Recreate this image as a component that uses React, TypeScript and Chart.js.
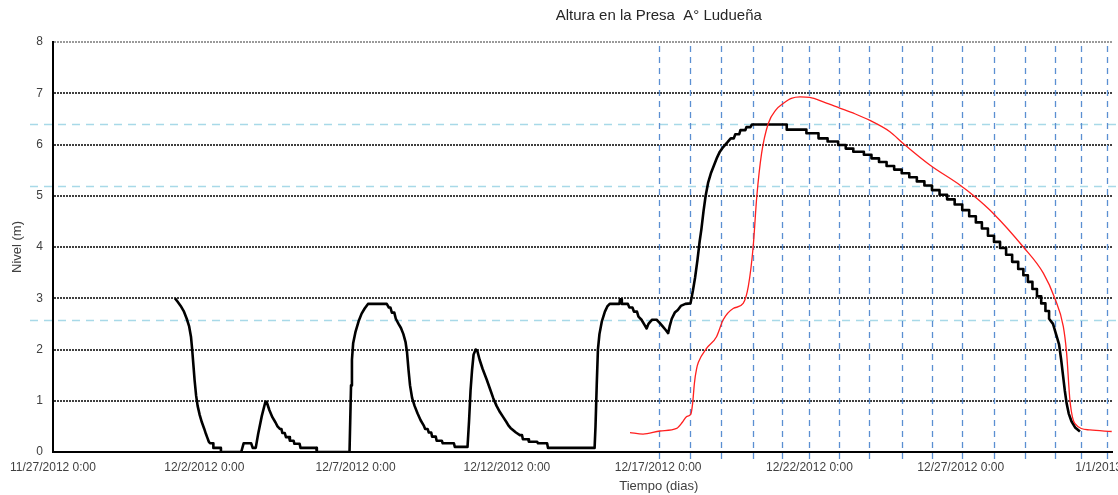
import React, { useEffect, useRef } from 'react';
import { Chart, registerables } from 'chart.js';

Chart.register(...registerables);

// ---- texts ----
const TITLE = 'Altura en la Presa  A° Ludueña';
const X_TITLE = 'Tiempo (dias)';
const Y_TITLE = 'Nivel (m)';

// ---- axes ----
const START_DATE = [2012, 10, 27]; // 11/27/2012 0:00 (month 0-based)
const X_MAX_DAYS = 35;
const X_STEP_DAYS = 5;
const Y_MIN = 0;
const Y_MAX = 8;
const Y_STEP = 1;

// ---- black series: measured level (days since 11/27/2012, metres), staircase corners included ----
const measuredDays = [
  4.03, 4.12, 4.22, 4.32, 4.42, 4.5, 4.56, 4.6, 4.64, 4.68, 4.73, 4.78, 4.85, 4.92, 5.0, 5.05, 5.1, 5.15,
  5.19, 5.3, 5.3, 5.55, 5.55, 6.22, 6.3, 6.55, 6.6, 6.7, 6.78, 6.9, 7.02, 7.06,
  7.15, 7.25, 7.35, 7.42, 7.5, 7.55, 7.58, 7.66, 7.7, 7.8, 7.83, 7.95, 7.98, 8.15, 8.18, 8.7, 8.72, 9.8,
  9.85, 9.88, 9.92, 10.0, 10.1, 10.2, 10.3, 10.41, 11.03,
  11.1, 11.15, 11.2, 11.28, 11.33, 11.42, 11.5, 11.58, 11.65, 11.7, 11.75, 11.8, 11.87, 11.95, 12.05, 12.15, 12.25,
  12.3, 12.38, 12.42, 12.5, 12.53, 12.65, 12.68, 12.85, 12.88, 13.25, 13.28, 13.7,
  13.75, 13.8, 13.85, 13.9, 13.97, 14.02,
  14.1, 14.2, 14.33, 14.45, 14.55, 14.66, 14.77, 14.88, 14.99, 15.05, 15.12, 15.2, 15.3, 15.43, 15.5, 15.53,
  15.7, 15.73, 16.0, 16.03, 16.33, 16.36, 17.9,
  17.93, 17.97, 18.01, 18.06, 18.14, 18.24, 18.32, 18.4, 18.72, 18.74, 18.78, 18.8, 19.0,
  19.05, 19.15, 19.2, 19.3, 19.35, 19.45, 19.55, 19.62, 19.68, 19.75, 19.8, 19.95, 20.05, 20.15, 20.25, 20.33,
  20.38, 20.45, 20.55, 20.65, 20.75, 20.9, 21.07,
  21.15, 21.22, 21.3, 21.37, 21.43, 21.5, 21.57, 21.65, 21.75, 21.85, 21.95, 22.04, 22.15, 22.3,
  22.4, 22.5, 22.55, 22.68, 22.72, 22.88, 22.92, 23.05, 23.1, 24.25,
  24.25, 24.9, 24.9, 25.3, 25.3, 25.6, 25.6, 25.95, 25.95, 26.2, 26.2, 26.45, 26.45, 26.8, 26.8, 27.05,
  27.05, 27.3, 27.3, 27.55, 27.55, 27.8, 27.8, 28.05, 28.05, 28.3, 28.3, 28.55, 28.55, 28.8, 28.8, 29.05,
  29.05, 29.3, 29.3, 29.55, 29.55, 29.8, 29.8, 30.05, 30.05, 30.28, 30.28, 30.5, 30.5, 30.7, 30.7, 30.9,
  30.9, 31.1, 31.1, 31.3, 31.3, 31.5, 31.5, 31.7, 31.7, 31.9, 31.9, 32.07, 32.07, 32.22, 32.22, 32.37,
  32.37, 32.52, 32.52, 32.66, 32.66, 32.8, 32.8, 32.92, 32.92,
  33.05, 33.15, 33.25, 33.32, 33.38, 33.44, 33.5, 33.57, 33.66, 33.78, 33.94,
];
const measuredLevel = [
  3.0, 2.93, 2.85, 2.75, 2.6, 2.45, 2.25, 2.0, 1.7, 1.4, 1.1, 0.9, 0.72, 0.58, 0.45, 0.36, 0.28, 0.2,
  0.17, 0.17, 0.08, 0.08, 0.0, 0.0, 0.17, 0.17, 0.08, 0.08, 0.35, 0.7, 0.98, 0.98,
  0.82, 0.68, 0.58, 0.5, 0.45, 0.45, 0.37, 0.37, 0.29, 0.29, 0.22, 0.22, 0.16, 0.16, 0.08, 0.08, 0.0, 0.0,
  1.3, 1.8, 2.12, 2.35, 2.55, 2.7, 2.8, 2.89, 2.89,
  2.82, 2.82, 2.72, 2.72, 2.6, 2.5, 2.42, 2.3, 2.15, 1.95, 1.6, 1.3, 1.05, 0.9, 0.75, 0.62, 0.52,
  0.45, 0.45, 0.38, 0.38, 0.3, 0.3, 0.22, 0.22, 0.17, 0.17, 0.1, 0.1,
  0.6, 1.2, 1.6, 1.9, 2.0, 1.98,
  1.8, 1.62, 1.42, 1.22, 1.05, 0.9, 0.78, 0.68, 0.58, 0.52, 0.47, 0.43, 0.38, 0.33, 0.33, 0.25,
  0.25, 0.2, 0.2, 0.17, 0.17, 0.08, 0.08,
  0.5, 1.3, 2.0, 2.3, 2.55, 2.74, 2.84, 2.89, 2.89, 2.98, 2.98, 2.89, 2.89,
  2.82, 2.82, 2.74, 2.74, 2.64, 2.58, 2.48, 2.41, 2.5, 2.55, 2.58, 2.58, 2.52, 2.45, 2.38, 2.32,
  2.45, 2.6, 2.72, 2.77, 2.85, 2.89, 2.9,
  3.15, 3.4, 3.75, 4.1, 4.35, 4.7, 5.0, 5.25, 5.45, 5.6, 5.75, 5.86, 5.95, 6.05,
  6.12, 6.12, 6.2, 6.2, 6.28, 6.28, 6.34, 6.34, 6.39, 6.39,
  6.29, 6.29, 6.22, 6.22, 6.12, 6.12, 6.06, 6.06, 5.99, 5.99, 5.92, 5.92, 5.86, 5.86, 5.8, 5.8,
  5.73, 5.73, 5.66, 5.66, 5.58, 5.58, 5.51, 5.51, 5.44, 5.44, 5.36, 5.36, 5.28, 5.28, 5.2, 5.2,
  5.11, 5.11, 5.02, 5.02, 4.93, 4.93, 4.83, 4.83, 4.72, 4.72, 4.6, 4.6, 4.48, 4.48, 4.36, 4.36,
  4.22, 4.22, 4.1, 4.1, 3.98, 3.98, 3.85, 3.85, 3.71, 3.71, 3.57, 3.57, 3.45, 3.45, 3.32, 3.32,
  3.18, 3.18, 3.04, 3.04, 2.9, 2.9, 2.75, 2.75, 2.6,
  2.5, 2.3, 2.1, 1.8, 1.5, 1.2, 0.95, 0.75, 0.6, 0.48, 0.4,
];

// ---- red series: simulated level ----
const simulatedDays = [
  19.07, 19.5, 20.06, 20.61, 20.8, 20.94, 21.08, 21.14, 21.2, 21.27, 21.33, 21.6, 21.93, 22.15, 22.48,
  22.81, 22.98, 23.14, 23.26, 23.42, 23.64, 23.9, 24.13, 24.4, 24.69, 25.01, 25.5, 26.0, 26.5, 27.0,
  27.66, 28.1, 28.98, 29.97, 30.41, 31.07, 32.07, 32.73, 33.11, 33.39, 33.5, 33.61, 33.77, 34.27, 34.99,
];
const simulatedLevel = [
  0.38, 0.35, 0.41, 0.46, 0.58, 0.69, 0.74, 0.95, 1.35, 1.62, 1.75, 2.02, 2.25, 2.58, 2.8,
  2.9, 3.23, 4.0, 4.98, 5.83, 6.41, 6.68, 6.8, 6.9, 6.93, 6.92, 6.82, 6.71, 6.6, 6.47,
  6.25, 6.02, 5.6, 5.21, 5.01, 4.66, 4.0, 3.49, 3.0, 2.45, 1.93, 1.01, 0.56, 0.43, 0.4,
];

// ---- reference marks ----
const dayMarkers = [
  20.03, 21.05, 22.08, 23.13, 24.09, 24.98, 25.97, 26.97, 28.06, 29.05, 30.04, 31.1, 32.12,
  33.1, 33.97, 34.83,
];
const referenceLevels = [6.4, 5.2, 2.58];

const FONT = "'Liberation Sans', Arial, sans-serif";

function dayLabel(v: number): string {
  const d = new Date(START_DATE[0], START_DATE[1], START_DATE[2] + v);
  return `${d.getMonth() + 1}/${d.getDate()}/${d.getFullYear()} 0:00`;
}

const refLinesPlugin = {
  id: 'refLines',
  beforeDatasetsDraw(chart: any) {
    const { ctx, chartArea, scales } = chart;
    const xs = scales.x;
    const ys = scales.y;
    ctx.save();
    ctx.strokeStyle = '#a8d9e8';
    ctx.lineWidth = 1.5;
    ctx.setLineDash([8, 6]);
    for (const lv of referenceLevels) {
      const y = Math.round(ys.getPixelForValue(lv)) + 0.5;
      ctx.beginPath();
      ctx.moveTo(30, y);
      ctx.lineTo(chart.width, y);
      ctx.stroke();
    }
    ctx.strokeStyle = '#5b8fd2';
    ctx.lineWidth = 1.3;
    ctx.setLineDash([6, 5]);
    for (const d of dayMarkers) {
      const x = Math.round(xs.getPixelForValue(d)) + 0.5;
      ctx.beginPath();
      ctx.moveTo(x, chartArea.top + 4);
      ctx.lineTo(x, chartArea.bottom + 8);
      ctx.stroke();
    }
    ctx.restore();
  },
};

const textPlugin = {
  id: 'texts',
  afterDraw(chart: any) {
    const { ctx, chartArea } = chart;
    const cx = chartArea.left + chartArea.width * 0.572;
    ctx.save();
    ctx.textAlign = 'center';
    ctx.textBaseline = 'middle';
    ctx.fillStyle = '#262626';
    ctx.font = `15px ${FONT}`;
    ctx.fillText(TITLE, cx, 16);
    ctx.fillStyle = '#404040';
    ctx.font = `13px ${FONT}`;
    ctx.fillText(X_TITLE, cx, 486);
    ctx.restore();
  },
};

export default function App() {
  const canvasRef = useRef<HTMLCanvasElement | null>(null);

  useEffect(() => {
    if (!canvasRef.current) return;
    const measured = measuredDays.map((d, i) => ({ x: d, y: measuredLevel[i] }));
    const simulated = simulatedDays.map((d, i) => ({ x: d, y: simulatedLevel[i] }));
    const chart = new Chart(canvasRef.current, {
      type: 'line',
      data: {
        datasets: [
          {
            data: simulated,
            borderColor: '#ff1f1f',
            borderWidth: 1.3,
            pointRadius: 0,
            cubicInterpolationMode: 'monotone',
            fill: false,
          },
          {
            data: measured,
            borderColor: '#000000',
            borderWidth: 2.6,
            pointRadius: 0,
            tension: 0,
            borderJoinStyle: 'round',
            fill: false,
          },
        ],
      },
      options: {
        animation: false,
        responsive: true,
        maintainAspectRatio: false,
        layout: { padding: { top: 42, right: 6, left: 0, bottom: 0 } },
        plugins: {
          legend: { display: false },
          title: { display: false },
          tooltip: { enabled: false },
        },
        scales: {
          x: {
            type: 'linear',
            min: 0,
            max: X_MAX_DAYS,
            afterFit: (s: any) => {
              s.paddingLeft = 0;
              s.paddingRight = 0;
              s.height = 43;
            },
            grid: { display: false, drawTicks: false },
            border: { display: true, color: '#000', width: 2 },
            ticks: {
              stepSize: X_STEP_DAYS,
              autoSkip: false,
              maxRotation: 0,
              minRotation: 0,
              padding: 8,
              color: '#404040',
              font: { family: FONT, size: 12 },
              callback: (v: any) => dayLabel(Number(v)),
            },
          },
          y: {
            min: Y_MIN,
            max: Y_MAX,
            afterFit: (s: any) => {
              s.width = 53;
            },
            grid: {
              color: (c: any) => (c.tick && c.tick.value === Y_MAX ? '#9a9a9a' : '#404040'),
              lineWidth: 2,
              drawTicks: false,
            },
            border: { display: true, color: '#000', width: 2, dash: [2, 1] },
            ticks: {
              stepSize: Y_STEP,
              padding: 10,
              color: '#404040',
              font: { family: FONT, size: 12 },
            },
            title: {
              display: true,
              text: Y_TITLE,
              color: '#404040',
              font: { family: FONT, size: 13 },
              padding: { top: 10, bottom: 0 },
            },
          },
        },
      },
      plugins: [refLinesPlugin, textPlugin],
    } as any);
    return () => chart.destroy();
  }, []);

  return (
    <div style={{ position: 'absolute', left: 0, top: 0, width: 1118, height: 495, background: '#fff' }}>
      <canvas ref={canvasRef} />
    </div>
  );
}
